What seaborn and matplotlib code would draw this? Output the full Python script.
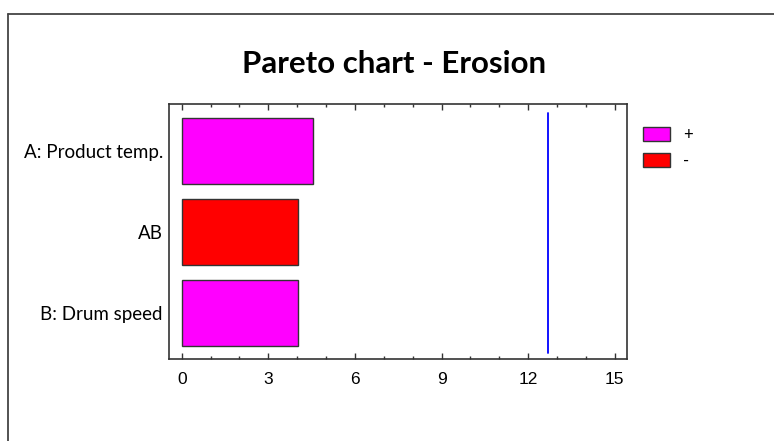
import numpy as np
import pandas as pd
import seaborn as sns
import matplotlib.pyplot as plt
from matplotlib.lines import Line2D
from matplotlib.patches import Patch
from matplotlib.ticker import MultipleLocator

# effects and standardized values
effects = ["A: Product temp.", "AB", "B: Drum speed"]
std_effect = [4.54, 4.02, 4.02]
signs = ["+", "-", "+"]
critical = 12.67
sign_colors = {"+": "#ff00ff", "-": "#ff0000"}

df = pd.DataFrame({"effect": effects, "value": std_effect, "sign": signs})

sns.set_style("white")
plt.rcParams['font.family'] = ['Lato', 'DejaVu Sans']
plt.rcParams['text.color'] = 'black'
plt.rcParams['xtick.color'] = 'black'
plt.rcParams['ytick.color'] = 'black'

fig = plt.figure(figsize=(7.74, 4.41), dpi=100)
ax = fig.add_axes([169/774, 1 - 359/441, 458/774, 255/441])

sns.barplot(data=df, x="value", y="effect", hue="sign", palette=sign_colors,
            saturation=1, dodge=False, width=0.81, edgecolor="#333333",
            linewidth=1.0, legend=False, ax=ax)

ax.axvline(critical, ymin=0.024, ymax=0.965, color="#0000ff", lw=1.3)

ax.set_xlim(-0.44, 15.42)
ax.set_ylim(2.57, -0.58)
ax.set_xlabel("")
ax.set_ylabel("")

ax.xaxis.set_major_locator(MultipleLocator(3))
ax.xaxis.set_minor_locator(MultipleLocator(1))
ax.tick_params(axis="x", which="major", direction="in", length=4, width=1,
               top=True, bottom=True, pad=9, labelsize=12.5, color="#333333")
ax.tick_params(axis="x", which="minor", direction="in", length=2, width=1,
               top=True, bottom=True, color="#333333")
ax.tick_params(axis="y", length=0, pad=4.5, labelsize=13.5)
for lab in ax.get_xticklabels():
    lab.set_fontfamily("Liberation Sans")

for sp in ax.spines.values():
    sp.set_color("#333333")
    sp.set_linewidth(1.2)

fig.text(394/774, 1 - 73/441, "Pareto chart - Erosion", ha="center",
         va="baseline", fontsize=22.5, fontweight="bold")

handles = [Patch(facecolor=sign_colors[s], edgecolor="#333333", lw=1.0) for s in ["+", "-"]]
fig.legend(handles, ["+", "-"], loc="upper left",
           bbox_to_anchor=(643/774, 1 - 127/441), frameon=False,
           borderpad=0, borderaxespad=0, handlelength=1.62, handleheight=0.95,
           handletextpad=0.8, labelspacing=0.6, fontsize=12)

# page border
fig.add_artist(Line2D([8/774, 1], [1 - 14/441] * 2, transform=fig.transFigure,
                      color="#444444", lw=1.3))
fig.add_artist(Line2D([8/774] * 2, [0, 1 - 14/441], transform=fig.transFigure,
                      color="#444444", lw=1.3))

fig.savefig("out.png", dpi=100)
